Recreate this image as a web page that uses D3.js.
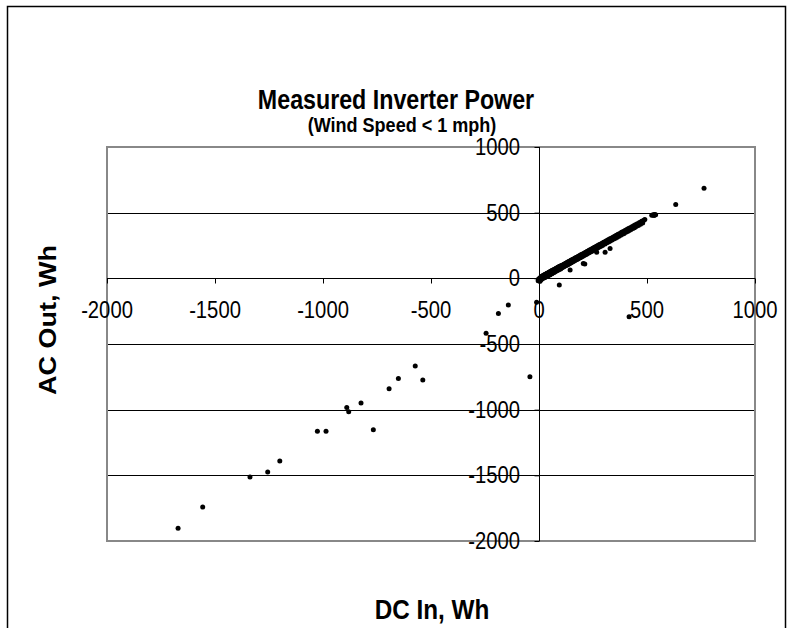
<!DOCTYPE html>
<html><head><meta charset="utf-8">
<script src="https://cdn.jsdelivr.net/npm/d3@7"></script>
<style>body{margin:0;background:#fff}svg{display:block}text{font-family:Arial,"Liberation Sans",Helvetica,sans-serif}</style>
</head><body>
<script>
// ---- data ----
const titleText = "Measured Inverter Power";
const subtitleText = "(Wind Speed < 1 mph)";
const xAxisTitle = "DC In, Wh";
const yAxisTitle = "AC Out, Wh";
const xTicks = [-2000, -1500, -1000, -500, 0, 500, 1000];
const yTicks = [-2000, -1500, -1000, -500, 0, 500, 1000];
// scattered points (DC In, AC Out in Wh)
const sparseDC = [-1671,-1557,-1338,-1256,-1200,-1026,-986,-767,-890,-881,-824,-694,-651,-573,-538,-245,-188,-142,-42,-11,417,
  522,527,531,536,540,533,633,764,94,144,205,212,267,306,329];
const sparseAC = [-1902,-1742,-1513,-1475,-1391,-1165,-1165,-1153,-983,-1016,-950,-841,-762,-668,-775,-419,-267,-203,-749,-183,-292,
  480,482,484,486,484,478,563,685,-51,63,112,110,198,198,228];
// dense band near the origin
const bandDC = [
 -4,2,-2,5,0,3,4,6,8,10,11,13,15,16,18,20,21,23,25,26,28,30,31,33,35,36,38,40,41,43,45,46,48,50,51,53,55,56,58,60,61,63,65,66,68,70,72,73,75,77,78,80,82,84,85,87,88,90,92,94,95,97,99,100,
 102,104,106,108,110,112,114,116,118,120,122,124,126,128,130,132,134,136,138,140,142,144,146,148,150,152,154,156,158,160,162,165,167,170,172,175,177,180,182,185,187,190,192,195,197,200,
 202,205,207,210,212,215,217,220,222,225,227,230,232,235,237,240,242,245,247,250,252,255,257,260,263,266,268,271,274,277,280,283,286,289,292,295,298,
 302,306,310,314,318,322,326,330,334,338,342,346,350,354,358,362,366,370,374,378,382,386,390,394,398,402,406,410,414,418,422,426,430,434,438,442,446,450,455,460,465,470,475,480,485,490
];
const bandAC = [
 -18,-20,-6,-22,-8,-14,2,-6,9,-10,14,-4,18,-2,20,2,23,6,27,4,29,10,32,14,36,16,39,18,41,22,45,28,48,26,50,32,54,36,57,34,60,40,63,46,66,44,70,50,72,54,75,56,79,60,81,66,84,64,88,70,90,76,94,72,
 95,79,98,82,102,86,106,90,109,93,113,97,117,100,120,104,124,108,128,111,131,115,135,119,139,122,142,126,146,130,149,134,154,139,159,143,163,148,168,152,172,157,177,161,181,166,
 186,171,190,175,195,180,199,184,204,189,209,193,213,198,218,202,222,207,227,212,231,216,236,221,241,226,246,231,251,236,257,242,262,247,268,252,273,
 277,262,284,270,291,277,299,284,306,292,313,299,321,306,328,313,335,321,342,328,350,335,357,342,364,350,371,357,379,364,386,372,393,379,401,386,408,394,416,403,425,412,434,421,443,448
];

// ---- layout ----
const W = 792, H = 628;
const plot = {left: 107, right: 755, top: 147, bottom: 541};
const SX = 0.88; // horizontal squeeze of the original picture's text

const svg = d3.select("body").append("svg").attr("width", W).attr("height", H);

const x = d3.scaleLinear().domain([-2000, 1000]).range([plot.left, plot.right]);
const y = d3.scaleLinear().domain([-2000, 1000]).range([plot.bottom, plot.top]);

// chart border
svg.append("rect").attr("x", 7.5).attr("y", 6.5).attr("width", 778).attr("height", 700)
  .attr("fill", "#fff").attr("stroke", "#000").attr("stroke-width", 1.5);

function label(xp, yp, str, size, weight, anchor, sx, rotate) {
  const g = svg.append("g").attr("transform",
    `translate(${xp},${yp})` + (rotate ? ` rotate(-90) scale(1,${sx})` : ` scale(${sx},1)`));
  g.append("text").attr("text-anchor", anchor).attr("font-size", size)
    .attr("font-weight", weight).attr("fill", "#000").text(str);
  return g;
}

// gridlines
svg.append("g").selectAll("line").data(yTicks).join("line")
  .attr("x1", plot.left).attr("x2", plot.right)
  .attr("y1", d => Math.round(y(d)) + 0.5).attr("y2", d => Math.round(y(d)) + 0.5)
  .attr("stroke", "#000").attr("stroke-width", 1);

// plot area border
svg.append("rect").attr("x", plot.left).attr("y", plot.top)
  .attr("width", plot.right - plot.left).attr("height", plot.bottom - plot.top)
  .attr("fill", "none").attr("stroke", "#888").attr("stroke-width", 2);

// axes crossing at zero
const xAxis = d3.axisBottom(x).tickValues(xTicks).tickSize(5).tickFormat("");
const yAxis = d3.axisLeft(y).tickValues(yTicks).tickSize(5).tickFormat("");
const gx = svg.append("g").attr("transform", `translate(0,${Math.round(y(0)) + 0.5})`).call(xAxis);
const gy = svg.append("g").attr("transform", `translate(${Math.round(x(0)) + 0.5},0)`).call(yAxis);
[gx, gy].forEach(g => { g.selectAll("path,line").attr("stroke", "#000"); });
gx.select(".domain").attr("d", `M${plot.left},0H${plot.right}`);
gy.select(".domain").attr("d", `M0,${plot.top}V${plot.bottom}`);

// tick labels
xTicks.forEach(t => label(x(t), y(0) + 40, String(t), 23, "normal", "middle", SX));
yTicks.forEach(t => label(x(0) - 19, y(t) + 8, String(t), 23, "normal", "end", SX));

// points
const pts = sparseDC.map((d, i) => [d, sparseAC[i]]).concat(bandDC.map((d, i) => [d, bandAC[i]]));
svg.append("g").selectAll("circle").data(pts).join("circle")
  .attr("cx", d => x(d[0])).attr("cy", d => y(d[1])).attr("r", 2.5).attr("fill", "#000");

// titles
label(396, 109, titleText, 28, "bold", "middle", 0.83);
label(402, 132, subtitleText, 20.5, "bold", "middle", 0.88);
label(432, 619, xAxisTitle, 27, "bold", "middle", 0.9);
label(56, 320, yAxisTitle, 27, "bold", "middle", 0.88, true);
</script>
</body></html>
